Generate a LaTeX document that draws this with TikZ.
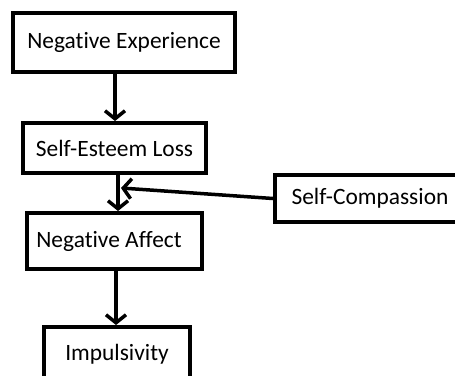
\documentclass[tikz,border=0pt]{standalone}
\usepackage{fontspec}
\setmainfont{Carlito}[Ligatures=NoCommon]
\usetikzlibrary{arrows.meta}
\begin{document}
\begin{tikzpicture}[x=1bp,y=-1bp,
  box/.style={draw,line width=4bp,rectangle,inner sep=0pt,font=\fontsize{23.5}{26}\selectfont},
  arr/.style={line width=3.5bp,-{Straight Barb[length=8bp,width=20bp,line width=3.5bp]}}]
\useasboundingbox (0,0) rectangle (455,375);
\clip (0,0) rectangle (455,375);
\node[box,minimum width=222bp,minimum height=59bp] (ne) at (124,42.5) {Negative Experience};
\node[box,minimum width=183bp,minimum height=50bp] (sel) at (114.5,148) {Self-Esteem Loss};
\node[box,minimum width=175bp,minimum height=56bp] (na) at (114.5,241) {\hspace{-11bp}Negative Affect};
\node[box,minimum width=190bp,minimum height=47bp,anchor=west] (sc) at (273,198.5) {Self-Compassion};
\node[box,minimum width=146bp,minimum height=54bp,anchor=north west] (imp) at (42,325) {Impulsivity};
\coordinate (xa) at (115,0);
\coordinate (xb) at (118,0);
\coordinate (xc) at (116,0);
\coordinate (m) at (121,188);
\draw[arr] (ne.south -| xa) -- (sel.north -| xa);
\draw[arr] (sel.south -| xb) -- (na.north -| xb);
\draw[arr] (na.south -| xc) -- (imp.north -| xc);
\draw[arr] (sc.west) -- (m);
\end{tikzpicture}
\end{document}
